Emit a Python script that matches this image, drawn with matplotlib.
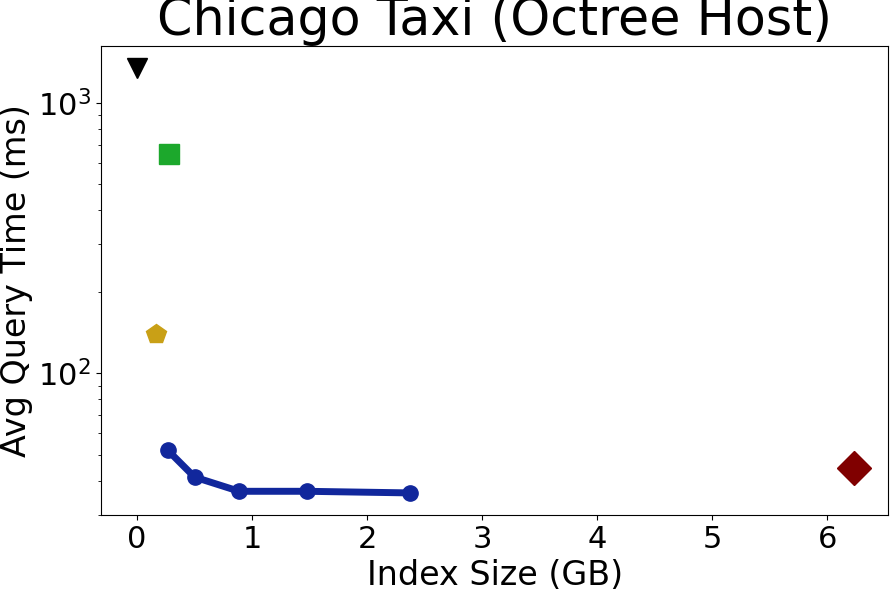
import numpy as np
import matplotlib
matplotlib.use("Agg")
import matplotlib.pyplot as plt

# Données
octree_size = [0.267, 0.50, 0.888, 1.476, 2.372]
octree_time = [51.9, 41.3, 36.6, 36.6, 36.1]

autres_size = [0.0, 0.276, 0.163, 6.23]
autres_time = [1346, 647, 139.6, 44.7]
autres_marker = ["v", "s", "p", "D"]
autres_couleur = ["black", "#1ca82c", "#c9a016", "#800000"]
autres_taille = [15, 15, 15, 17]

fig, ax = plt.subplots(figsize=(8.92, 5.92), dpi=100)

ax.plot(octree_size, octree_time, color="#11279c", linewidth=5,
        marker="o", markersize=11)
for x, y, m, c, s in zip(autres_size, autres_time, autres_marker, autres_couleur, autres_taille):
    ax.plot([x], [y], marker=m, color=c, markersize=s, linestyle="none")

ax.set_yscale("log")
ax.set_xlim(-0.315, 6.53)
ax.set_ylim(29.9, 1620)
ax.set_xticks([0, 1, 2, 3, 4, 5, 6])
ax.tick_params(labelsize=22)
ax.set_xlabel("Index Size (GB)", fontsize=24)
ax.set_ylabel("Avg Query Time (ms)", fontsize=24)
ax.set_title("Chicago Taxi (Octree Host)", fontsize=36.5, pad=4)

plt.subplots_adjust(left=0.113, right=0.996, top=0.922, bottom=0.13)
plt.savefig("out.png", dpi=100)
